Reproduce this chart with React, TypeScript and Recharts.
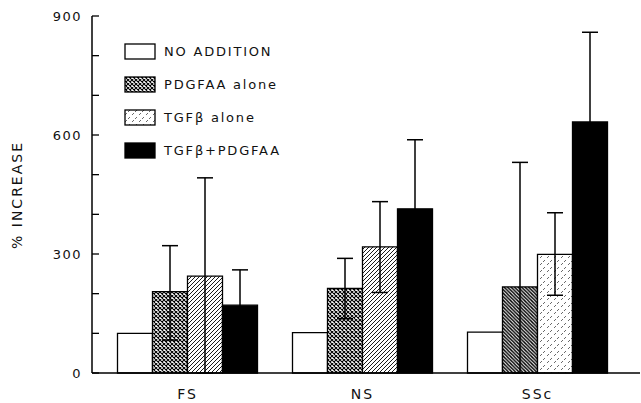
import { BarChart, Bar, XAxis, YAxis, ErrorBar, Cell, Legend } from 'recharts'

const categories = ['FS', 'NS', 'SSc']
const noAddition = [100, 102, 103]
const pdgfaa = [205, 213, 217]
const pdgfaaErr = [[122, 116], [76, 76], [217, 314]]
const tgfb = [244, 318, 299]
const tgfbErr = [[244, 248], [115, 114], [103, 105]]
const combo = [171, 414, 633]
const comboErr = [[89, 89], [174, 174], [226, 226]]
const yTicks = [0, 100, 200, 300, 400, 500, 600, 700, 800, 900]

const pdgfaaFills = ['url(#cross)', 'url(#cross)', 'url(#backHatch)']
const tgfbFills = ['url(#fwdHatch)', 'url(#fwdHatch)', 'url(#sparse)']

const legendRows = [
  { label: 'NO ADDITION', fill: '#fff' },
  { label: 'PDGFAA alone', fill: 'url(#cross)' },
  { label: 'TGFβ alone', fill: 'url(#sparse)' },
  { label: 'TGFβ+PDGFAA', fill: '#000' },
]

const data = categories.map((group, i) => ({
  group,
  none: noAddition[i],
  pdgfaa: pdgfaa[i],
  pdgfaaErr: pdgfaaErr[i],
  tgfb: tgfb[i],
  tgfbErr: tgfbErr[i],
  combo: combo[i],
  comboErr: comboErr[i],
}))

const FONT = '"DejaVu Sans", sans-serif'

function YTick({ x, y, payload }: { x: number; y: number; payload: { value: number } }) {
  return (
    <g>
      <line x1={x} x2={x + 7} y1={y} y2={y} stroke="#000" strokeWidth={1.3} />
      {payload.value % 300 === 0 && (
        <text
          x={x - 10}
          y={y}
          textAnchor="end"
          dominantBaseline="central"
          fontSize={13}
          letterSpacing={1.5}
          fontFamily={FONT}
          fill="#111"
        >
          {payload.value}
        </text>
      )}
    </g>
  )
}

function LegendBox() {
  return (
    <div style={{ fontFamily: FONT, fontSize: 13, letterSpacing: 1.8, color: '#111' }}>
      {legendRows.map((r) => (
        <div key={r.label} style={{ display: 'flex', alignItems: 'center', height: 33 }}>
          <svg width={32} height={17} style={{ marginRight: 8 }}>
            <rect x={1} y={1} width={30} height={15} fill={r.fill} stroke="#000" strokeWidth={1.3} />
          </svg>
          <span>{r.label}</span>
        </div>
      ))}
    </div>
  )
}

export default function App() {
  return (
    <div style={{ position: 'fixed', left: 0, top: 0, width: 641, height: 403, background: '#fff' }}>
      <BarChart
        width={641}
        height={403}
        data={data}
        margin={{ top: 16, right: 1, left: 0, bottom: 0 }}
        barGap={0}
        barCategoryGap="10%"
      >
        <defs>
          <pattern id="cross" width={4} height={4} patternUnits="userSpaceOnUse">
            <rect width={4} height={4} fill="#fff" />
            <path d="M0,0 L4,4 M4,0 L0,4" stroke="#000" strokeWidth={1.1} />
          </pattern>
          <pattern id="fwdHatch" width={4} height={4} patternUnits="userSpaceOnUse">
            <rect width={4} height={4} fill="#fff" />
            <path d="M-1,1 L1,-1 M0,4 L4,0 M3,5 L5,3" stroke="#000" strokeWidth={0.9} />
          </pattern>
          <pattern id="backHatch" width={3.5} height={3.5} patternUnits="userSpaceOnUse">
            <rect width={3.5} height={3.5} fill="#fff" />
            <path d="M-1,2.5 L1,4.5 M0,0 L3.5,3.5 M2.5,-1 L4.5,1" stroke="#000" strokeWidth={1.4} />
          </pattern>
          <pattern id="sparse" width={7} height={7} patternUnits="userSpaceOnUse">
            <rect width={7} height={7} fill="#fff" />
            <path d="M1,6 L3,4 M4,3 L6,1" stroke="#444" strokeWidth={0.8} />
          </pattern>
        </defs>
        <XAxis
          dataKey="group"
          axisLine={{ stroke: '#000', strokeWidth: 1.5 }}
          tickLine={false}
          tickSize={0}
          tickMargin={16}
          padding={{ left: 8, right: 15 }}
          height={30}
          tick={{ fontSize: 14, fill: '#111', fontFamily: FONT, letterSpacing: 2 }}
        />
        <YAxis
          domain={[0, 900]}
          ticks={yTicks}
          interval={0}
          width={92}
          axisLine={{ stroke: '#000', strokeWidth: 1.5 }}
          tickLine={false}
          tickSize={0}
          tickMargin={0}
          tick={YTick}
          label={{
            content: () => (
              <text
                x={17}
                y={195}
                transform="rotate(-90 17 195)"
                textAnchor="middle"
                dominantBaseline="central"
                fontSize={14}
                letterSpacing={2}
                fontFamily={FONT}
                fill="#111"
              >
                % INCREASE
              </text>
            ),
          }}
        />
        <Legend
          layout="vertical"
          align="center"
          verticalAlign="middle"
          content={LegendBox}
          wrapperStyle={{ left: 124, top: 35, width: 220 }}
        />
        <Bar dataKey="none" fill="#fff" stroke="#000" strokeWidth={1.3} isAnimationActive={false} />
        <Bar dataKey="pdgfaa" stroke="#000" strokeWidth={1.3} isAnimationActive={false}>
          {data.map((d, i) => (
            <Cell key={d.group} fill={pdgfaaFills[i]} />
          ))}
          <ErrorBar dataKey="pdgfaaErr" width={8} stroke="#000" strokeWidth={1.5} direction="y" isAnimationActive={false} />
        </Bar>
        <Bar dataKey="tgfb" stroke="#000" strokeWidth={1.3} isAnimationActive={false}>
          {data.map((d, i) => (
            <Cell key={d.group} fill={tgfbFills[i]} />
          ))}
          <ErrorBar dataKey="tgfbErr" width={8} stroke="#000" strokeWidth={1.5} direction="y" isAnimationActive={false} />
        </Bar>
        <Bar dataKey="combo" fill="#000" stroke="#000" strokeWidth={1.3} isAnimationActive={false}>
          <ErrorBar dataKey="comboErr" width={8} stroke="#000" strokeWidth={1.5} direction="y" isAnimationActive={false} />
        </Bar>
      </BarChart>
    </div>
  )
}
